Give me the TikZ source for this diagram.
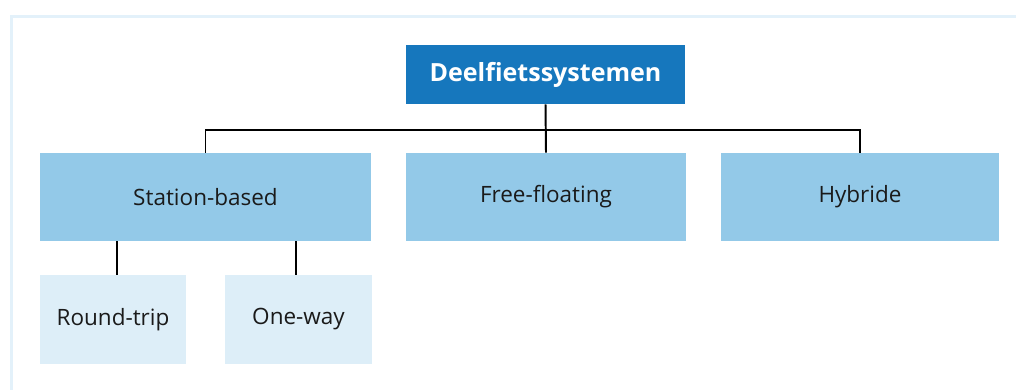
\documentclass[tikz,border=0pt]{standalone}
\usepackage{fontspec}
\setmainfont{Open Sans}
\usepackage{xcolor}
\definecolor{topblue}{HTML}{1677BD}
\definecolor{midblue}{HTML}{93C9E8}
\definecolor{lowblue}{HTML}{DDEEF8}
\definecolor{frameblue}{HTML}{E3F1FA}
\definecolor{inkgray}{HTML}{1A1A1A}

\begin{document}
\begin{tikzpicture}[x=0.025cm, y=-0.025cm,
        sys/.style={fill=midblue, text=inkgray, minimum height=2.2cm, font=\fontsize{16}{19}\selectfont, inner sep=0pt},
        sub/.style={fill=lowblue, text=inkgray, minimum height=2.225cm, font=\fontsize{16}{19}\selectfont, inner sep=0pt},
        tak/.style={line width=1.4pt, black}]
        \useasboundingbox (0,0) rectangle (1016,390);
        \draw[frameblue, line width=0.075cm] (11.5,390) -- (11.5,16) -- (1016,16);
        \node[fill=topblue, text=white, minimum width=6.975cm, minimum height=1.475cm, font=\fontsize{17.8}{21}\selectfont\bfseries] (top) at (545.5,74.5) {Deelfietssystemen};
        \node[sys, minimum width=8.275cm] (sb) at (205.5,197) {Station-based};
        \node[sys, minimum width=7cm] (ff) at (546,197) {Free-floating};
        \node[sys, minimum width=6.95cm] (hy) at (860,197) {Hybride};
        \node[sub, minimum width=3.65cm] (rt) at (113,319.5) {Round-trip};
        \node[sub, minimum width=3.675cm] (ow) at (298.5,319.5) {One-way};
        \coordinate (bar) at (545.5,130);
        \draw[tak] (sb.north) |- (bar) -| (hy.north);
        \draw[tak] (top.south) -- (ff.north);
        \draw[tak] ([xshift=0.1cm]rt.north) -- ([xshift=0.1cm]rt.north |- sb.south);
        \draw[tak] ([xshift=-0.0625cm]ow.north) -- ([xshift=-0.0625cm]ow.north |- sb.south);
    \end{tikzpicture}
\end{document}
